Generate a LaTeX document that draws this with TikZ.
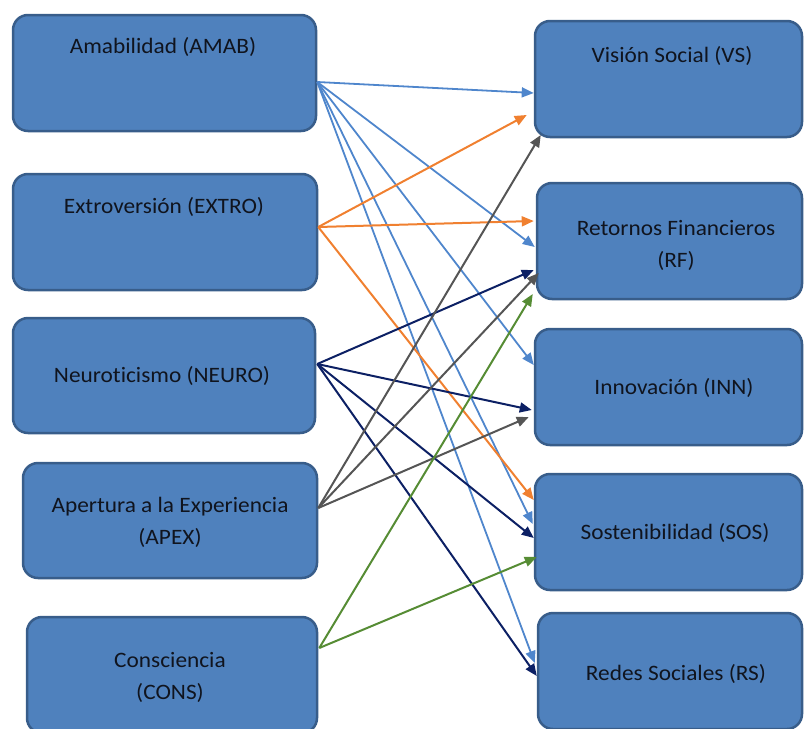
\documentclass[tikz,border=0pt]{standalone}
\usepackage{fontspec}
\setmainfont{Carlito}[FakeStretch=1.06,Ligatures={NoCommon,NoRare,NoContextual}]
\usetikzlibrary{arrows.meta,calc}
\definecolor{boxfill}{RGB}{79,129,189}
\definecolor{boxline}{RGB}{56,93,138}
\definecolor{txt}{RGB}{16,20,30}
\definecolor{cblue}{RGB}{79,134,204}
\definecolor{corange}{RGB}{240,128,48}
\definecolor{cnavy}{RGB}{12,32,100}
\definecolor{cgray}{RGB}{85,85,85}
\definecolor{cgreen}{RGB}{86,140,52}
\begin{document}
\begin{tikzpicture}[x=1pt,y=-1pt,
  box/.style={draw=boxline, fill=boxfill, line width=2.5pt, rounded corners=15pt, inner sep=0pt},
  lbl/.style={anchor=base, text=txt, font=\fontsize{22}{26}\selectfont, inner sep=0pt},
  conn/.style={line width=2pt, -{Triangle[length=12pt,width=10pt]}},
]
\useasboundingbox (0,0) rectangle (805,728);
\clip (0,0) rectangle (805,728);
% left boxes
\node[box, minimum width=303pt, minimum height=116pt] (amab)  at (164.5,73) {};
\node[box, minimum width=304pt, minimum height=116pt] (extro) at (165,232) {};
\node[box, minimum width=302pt, minimum height=115pt] (neuro) at (164,375.5) {};
\node[box, minimum width=294pt, minimum height=115pt] (apex)  at (170,520.5) {};
\node[box, minimum width=290pt, minimum height=116pt] (cons)  at (172,675) {};
% right boxes
\node[box, minimum width=267pt, minimum height=116pt] (vs)  at (668.5,79) {};
\node[box, minimum width=265pt, minimum height=116pt] (rf)  at (669.5,241) {};
\node[box, minimum width=267pt, minimum height=116pt] (inn) at (668.5,387) {};
\node[box, minimum width=267pt, minimum height=116pt] (sos) at (668.5,532) {};
\node[box, minimum width=264pt, minimum height=116pt] (rs)  at (670,671) {};
% labels
\node[lbl] (tamab)  at (163,53)  {Amabilidad (AMAB)};
\node[lbl] (textro) at (164,213) {Extroversión (EXTRO)};
\node[lbl] (tneuro) at (162,382) {Neuroticismo (NEURO)};
\node[lbl] (tapexa) at (170,512) {Apertura a la Experiencia};
\node[lbl] (tapexb) at (170,544) {(APEX)};
\node[lbl] (tconsa) at (170,667) {Consciencia};
\node[lbl] (tconsb) at (170,699) {(CONS)};
\node[lbl] (tvs)    at (672,62)  {Visión Social (VS)};
\node[lbl] (trfa)   at (676,235) {Retornos Financieros};
\node[lbl] (trfb)   at (676,267) {(RF)};
\node[lbl] (tinn)   at (674,394) {Innovación (INN)};
\node[lbl] (tsos)   at (675,539) {Sostenibilidad (SOS)};
\node[lbl] (trs)    at (676,680) {Redes Sociales (RS)};
% connectors: AMAB (blue)
\begin{scope}[conn, cblue, line width=1.8pt]
\draw ($(amab.east)+(0,9)$) -- ($(vs.west)+(0,14)$);
\draw ($(amab.east)+(0,9)$) -- ($(rf.west)+(-1,6)$);
\draw ($(amab.east)+(0,9)$) -- ($(inn.west)+(0,-22)$);
\draw ($(amab.east)+(0,9)$) -- ($(sos.west)+(-1,-8)$);
\draw ($(amab.east)+(0,9)$) -- ($(rs.west)+(-2,-8)$);
\end{scope}
% EXTRO (orange)
\begin{scope}[conn, corange]
\draw ($(extro.east)+(0,-5)$) -- ($(vs.west)+(-7,36)$);
\draw ($(extro.east)+(0,-5)$) -- ($(rf.west)+(-2,-20)$);
\draw ($(extro.east)+(0,-5)$) -- ($(sos.west)+(0,-32)$);
\end{scope}
% NEURO (navy)
\begin{scope}[conn, cnavy]
\draw ($(neuro.east)+(1,-11.5)$) -- ($(rf.west)+(-2,29)$);
\draw ($(neuro.east)+(1,-11.5)$) -- ($(inn.west)+(-2,23)$);
\draw ($(neuro.east)+(1,-11.5)$) -- ($(sos.west)+(0,6)$);
\draw ($(neuro.east)+(1,-11.5)$) -- ($(rs.west)+(0,5)$);
\end{scope}
% APEX (gray)
\begin{scope}[conn, cgray]
\draw ($(apex.east)+(0,-12.5)$) -- ($(vs.west)+(7,56)$);
\draw ($(apex.east)+(0,-12.5)$) -- ($(rf.west)+(3,32)$);
\draw ($(apex.east)+(0,-12.5)$) -- ($(inn.west)+(-5,30)$);
\end{scope}
% CONS (green)
\begin{scope}[conn, cgreen]
\draw ($(cons.east)+(1,-27)$) -- ($(rf.west)+(-3,53)$);
\draw ($(cons.east)+(1,-27)$) -- ($(sos.west)+(3,25)$);
\end{scope}
\end{tikzpicture}
\end{document}
